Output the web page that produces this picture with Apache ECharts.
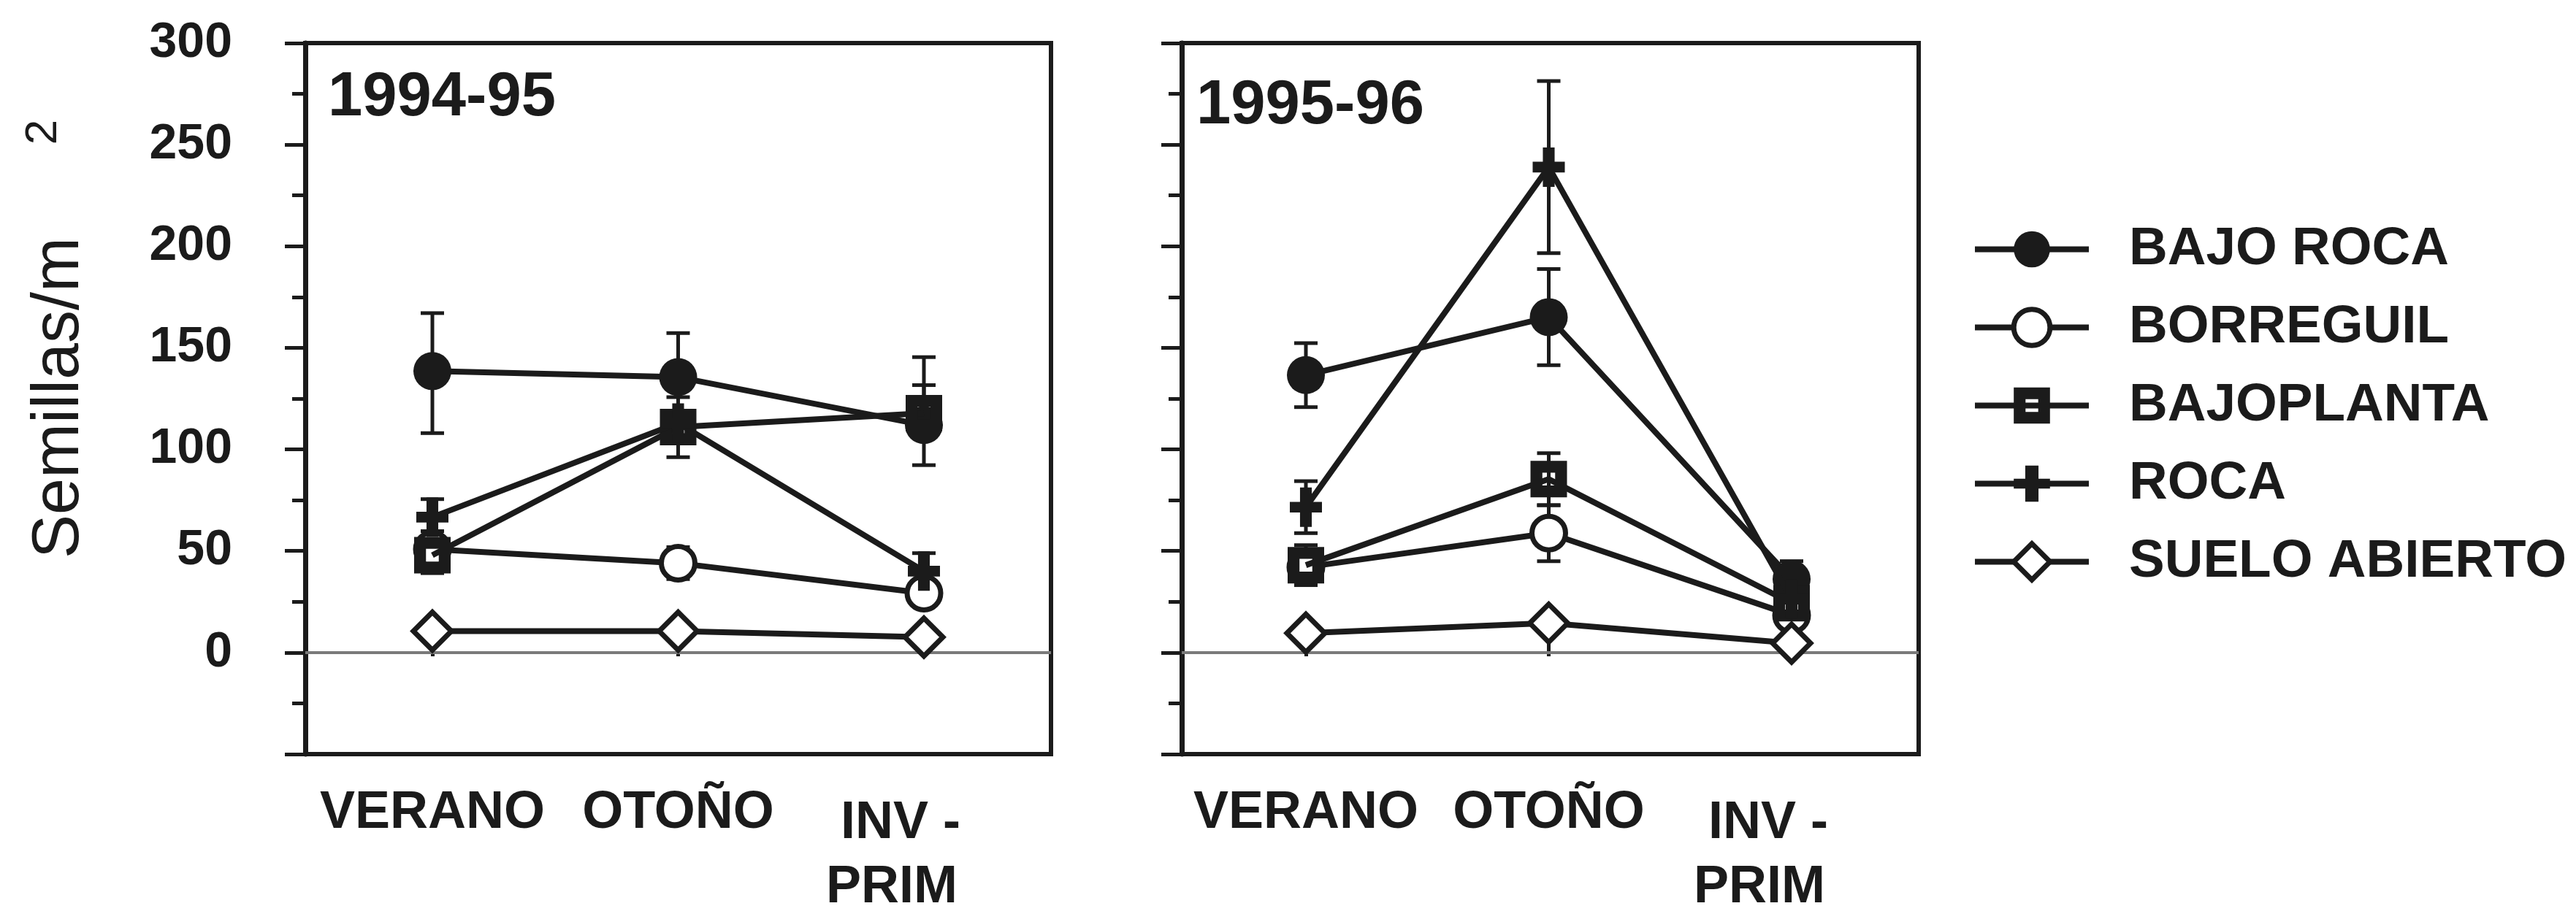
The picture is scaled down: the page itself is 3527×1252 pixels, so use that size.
<!DOCTYPE html>
<html>
<head>
<meta charset="utf-8">
<script src="https://cdn.jsdelivr.net/npm/echarts@6/dist/echarts.min.js"></script>
<style>
  html, body { margin: 0; padding: 0; background: #ffffff; }
  #chart { width: 3527px; height: 1252px; }
</style>
</head>
<body>
<div id="chart"></div>
<script>
// ---- data -------------------------------------------------------------
const seasons = ['VERANO', 'OTOÑO', 'INV - PRIM'];
const periods = ['1994-95', '1995-96'];
const seriesNames = ['BAJO ROCA', 'BORREGUIL', 'BAJOPLANTA', 'ROCA', 'SUELO ABIERTO'];
const yTickLabels = [0, 50, 100, 150, 200, 250, 300];
const axisTitle = 'Semillas/m';
const axisTitleExp = '2';

// 1994-95: mean seeds per m2 and error bar lengths (up / down)
const bajoRoca9495 = [136, 133, 109];
const bajoRoca9495Up = [29, 22, 34];
const bajoRoca9495Down = [31, 22, 20];
const borreguil9495 = [47, 40, 25];
const borreguil9495Up = [0, 8, 0];
const borreguil9495Down = [0, 8, 0];
const bajoplanta9495 = [44, 108, 115];
const bajoplanta9495Up = [9, 15, 14];
const bajoplanta9495Down = [9, 15, 8];
const roca9495 = [63, 110, 36];
const roca9495Up = [9, 6, 9];
const roca9495Down = [7, 6, 6];
const suelo9495 = [6, 6, 3];
const suelo9495Up = [0, 0, 0];
const suelo9495Down = [0, 0, 0];

// 1995-96
const bajoRoca9596 = [134, 163, 32];
const bajoRoca9596Up = [16, 24, 9];
const bajoRoca9596Down = [16, 24, 9];
const borreguil9596 = [38, 55, 14];
const borreguil9596Up = [0, 14, 0];
const borreguil9596Down = [0, 14, 0];
const bajoplanta9596 = [39, 82, 20];
const bajoplanta9596Up = [10, 13, 6];
const bajoplanta9596Down = [10, 13, 6];
const roca9596 = [68, 238, 22];
const roca9596Up = [13, 43, 8];
const roca9596Down = [13, 43, 8];
const suelo9596 = [5, 10, 0];
const suelo9596Up = [0, 0, 0];
const suelo9596Down = [0, 0, 0];

// ---- styling ------------------------------------------------------------
const INK = '#1b1b1b';
const FONT = '"Liberation Sans", Arial, sans-serif';

// filled square with a small open centre, and a thick plus sign
const SQUARE_HOLE = 'path://M0,0 H40 V40 H0 Z M13,13 V27 H27 V13 Z';
const PLUS = 'path://M13,0 H28 V19 H41 V33 H28 V52 H13 V33 H0 V19 H13 Z';

const markerStyles = {
  'BAJO ROCA':     { symbol: 'circle',    symbolSize: 52, itemStyle: { color: INK, borderColor: INK, borderWidth: 0 } },
  'BORREGUIL':     { symbol: 'circle',    symbolSize: 46, itemStyle: { color: '#ffffff', borderColor: INK, borderWidth: 7 } },
  'BAJOPLANTA':    { symbol: SQUARE_HOLE, symbolSize: 50, itemStyle: { color: INK, borderColor: INK, borderWidth: 0 } },
  'ROCA':          { symbol: PLUS,        symbolSize: [44, 54], itemStyle: { color: INK, borderColor: INK, borderWidth: 0 } },
  'SUELO ABIERTO': { symbol: 'diamond',   symbolSize: [52, 52], itemStyle: { color: '#ffffff', borderColor: INK, borderWidth: 7 } }
};

const panelData = [
  {
    means: [bajoRoca9495, borreguil9495, bajoplanta9495, roca9495, suelo9495],
    up: [bajoRoca9495Up, borreguil9495Up, bajoplanta9495Up, roca9495Up, suelo9495Up],
    down: [bajoRoca9495Down, borreguil9495Down, bajoplanta9495Down, roca9495Down, suelo9495Down]
  },
  {
    means: [bajoRoca9596, borreguil9596, bajoplanta9596, roca9596, suelo9596],
    up: [bajoRoca9596Up, borreguil9596Up, bajoplanta9596Up, roca9596Up, suelo9596Up],
    down: [bajoRoca9596Down, borreguil9596Down, bajoplanta9596Down, roca9596Down, suelo9596Down]
  }
];

// frame box and plotted span of each panel (px)
const TOP = 59, HEIGHT = 974;
const panels = [
  { frameLeft: 418,  frameWidth: 1021, dataLeft: 592,  dataWidth: 673, showLabels: true },
  { frameLeft: 1618, frameWidth: 1009, dataLeft: 1788, dataWidth: 665, showLabels: false }
];

const grids = [], xAxes = [], yAxes = [], series = [];

function errorBarItem(params, api) {
  const x = api.value(0);
  const hi = api.coord([x, api.value(1)]);
  const lo = api.coord([x, api.value(2)]);
  const half = 16;
  const style = { stroke: INK, lineWidth: 5 };
  return {
    type: 'group',
    children: [
      { type: 'line', shape: { x1: hi[0], y1: hi[1], x2: lo[0], y2: lo[1] }, style },
      { type: 'line', shape: { x1: hi[0] - half, y1: hi[1], x2: hi[0] + half, y2: hi[1] }, style },
      { type: 'line', shape: { x1: lo[0] - half, y1: lo[1], x2: lo[0] + half, y2: lo[1] }, style }
    ]
  };
}

function seasonLabel(value) {
  if (value === seasons[2]) {
    const parts = value.split(' - ');
    return '{inv|' + parts[0] + ' -}\n{prim|' + parts[1] + '}';
  }
  return '{base|' + value + '}';
}

panels.forEach((p, i) => {
  const frameIdx = i * 2, dataIdx = i * 2 + 1;

  // frame grid: box, y ticks, zero line
  grids.push({
    left: p.frameLeft, top: TOP, width: p.frameWidth, height: HEIGHT,
    show: true, borderColor: INK, borderWidth: 6, backgroundColor: 'transparent'
  });
  // plotted grid: category positions
  grids.push({ left: p.dataLeft, top: TOP, width: p.dataWidth, height: HEIGHT });

  xAxes.push({ gridIndex: frameIdx, type: 'value', min: 0, max: 1, show: false });
  xAxes.push({
    gridIndex: dataIdx, type: 'category', data: seasons, boundaryGap: false,
    axisLine: { show: false },
    axisTick: { show: true, length: 18, inside: false, lineStyle: { color: INK, width: 5 } },
    splitLine: { show: false },
    axisLabel: {
      show: true, interval: 0, margin: 60, color: INK,
      fontFamily: FONT, fontWeight: 'bold', fontSize: 72,
      formatter: seasonLabel,
      rich: {
        base: { fontFamily: FONT, fontWeight: 'bold', fontSize: 72, color: INK, lineHeight: 72 },
        inv:  { fontFamily: FONT, fontWeight: 'bold', fontSize: 72, color: INK, lineHeight: 100, padding: [0, 64, 0, 0] },
        prim: { fontFamily: FONT, fontWeight: 'bold', fontSize: 72, color: INK, lineHeight: 76, padding: [0, 88, 0, 0] }
      }
    }
  });

  yAxes.push({
    gridIndex: frameIdx, type: 'value', min: -50, max: 300, interval: 50,
    axisLine: { show: true, onZero: false, lineStyle: { color: INK, width: 7 } },
    axisTick: { show: true, inside: false, length: 28, lineStyle: { color: INK, width: 5 } },
    minorTick: { show: true, splitNumber: 2, length: 18, lineStyle: { color: INK, width: 5 } },
    splitLine: { show: false },
    axisLabel: {
      show: p.showLabels, margin: 100, color: INK,
      fontFamily: FONT, fontWeight: 'bold', fontSize: 68,
      formatter: v => (yTickLabels.indexOf(v) >= 0 ? String(v) : '')
    }
  });
  yAxes.push({ gridIndex: dataIdx, type: 'value', min: -50, max: 300, show: false });

  // zero reference line across the frame
  series.push({
    type: 'line', xAxisIndex: frameIdx, yAxisIndex: frameIdx, data: [], silent: true,
    markLine: {
      silent: true, symbol: 'none', label: { show: false },
      lineStyle: { color: '#7a7a7a', width: 4, type: 'solid' },
      data: [{ yAxis: 0 }]
    }
  });

  const d = panelData[i];

  // error bars underneath the markers
  const bars = [];
  seriesNames.forEach((name, s) => {
    d.means[s].forEach((m, k) => {
      const u = d.up[s][k], dn = d.down[s][k];
      if (u > 0 || dn > 0) bars.push([k, m + u, m - dn]);
    });
  });
  series.push({
    type: 'custom', xAxisIndex: dataIdx, yAxisIndex: dataIdx, z: 1, silent: true,
    renderItem: errorBarItem, data: bars, encode: { x: 0, y: [1, 2] }
  });

  seriesNames.forEach((name, s) => {
    const m = markerStyles[name];
    series.push({
      name, type: 'line', xAxisIndex: dataIdx, yAxisIndex: dataIdx, z: 2 + s,
      data: d.means[s], clip: false,
      symbol: m.symbol, symbolSize: m.symbolSize, showAllSymbol: true,
      itemStyle: m.itemStyle,
      lineStyle: { color: INK, width: 8 },
      emphasis: { disabled: true }
    });
  });
});

// legend entries: thick line with each series' own marker
const legendItems = seriesNames.map(name => ({
  name,
  itemStyle: {
    color: markerStyles[name].itemStyle.color,
    borderColor: INK,
    borderWidth: markerStyles[name].itemStyle.borderWidth
  },
  lineStyle: { width: 8, color: INK }
}));

const chart = echarts.init(document.getElementById('chart'), null, { renderer: 'canvas' });
chart.setOption({
  animation: false,
  backgroundColor: '#ffffff',
  grid: grids,
  xAxis: xAxes,
  yAxis: yAxes,
  series,
  legend: {
    orient: 'vertical', left: 2695, top: 300,
    itemWidth: 156, itemHeight: 62, itemGap: 34,
    data: legendItems,
    selectedMode: false,
    lineStyle: { width: 8, color: INK },
    textStyle: { fontFamily: FONT, fontWeight: 'bold', fontSize: 73, color: INK, padding: [0, 0, 0, 50] }
  },
  graphic: [
    { type: 'text', x: 82, y: 545, rotation: Math.PI / 2,
      style: { text: axisTitle, font: '90px ' + FONT, fill: INK, textAlign: 'center', textVerticalAlign: 'middle' } },
    { type: 'text', x: 60, y: 181, rotation: Math.PI / 2,
      style: { text: axisTitleExp, font: '62px ' + FONT, fill: INK, textAlign: 'center', textVerticalAlign: 'middle' } },
    { type: 'text', x: 449, y: 92,
      style: { text: periods[0], font: 'bold 85px ' + FONT, fill: INK, textAlign: 'left', textVerticalAlign: 'top' } },
    { type: 'text', x: 1638, y: 103,
      style: { text: periods[1], font: 'bold 85px ' + FONT, fill: INK, textAlign: 'left', textVerticalAlign: 'top' } }
  ]
});
</script>
</body>
</html>
